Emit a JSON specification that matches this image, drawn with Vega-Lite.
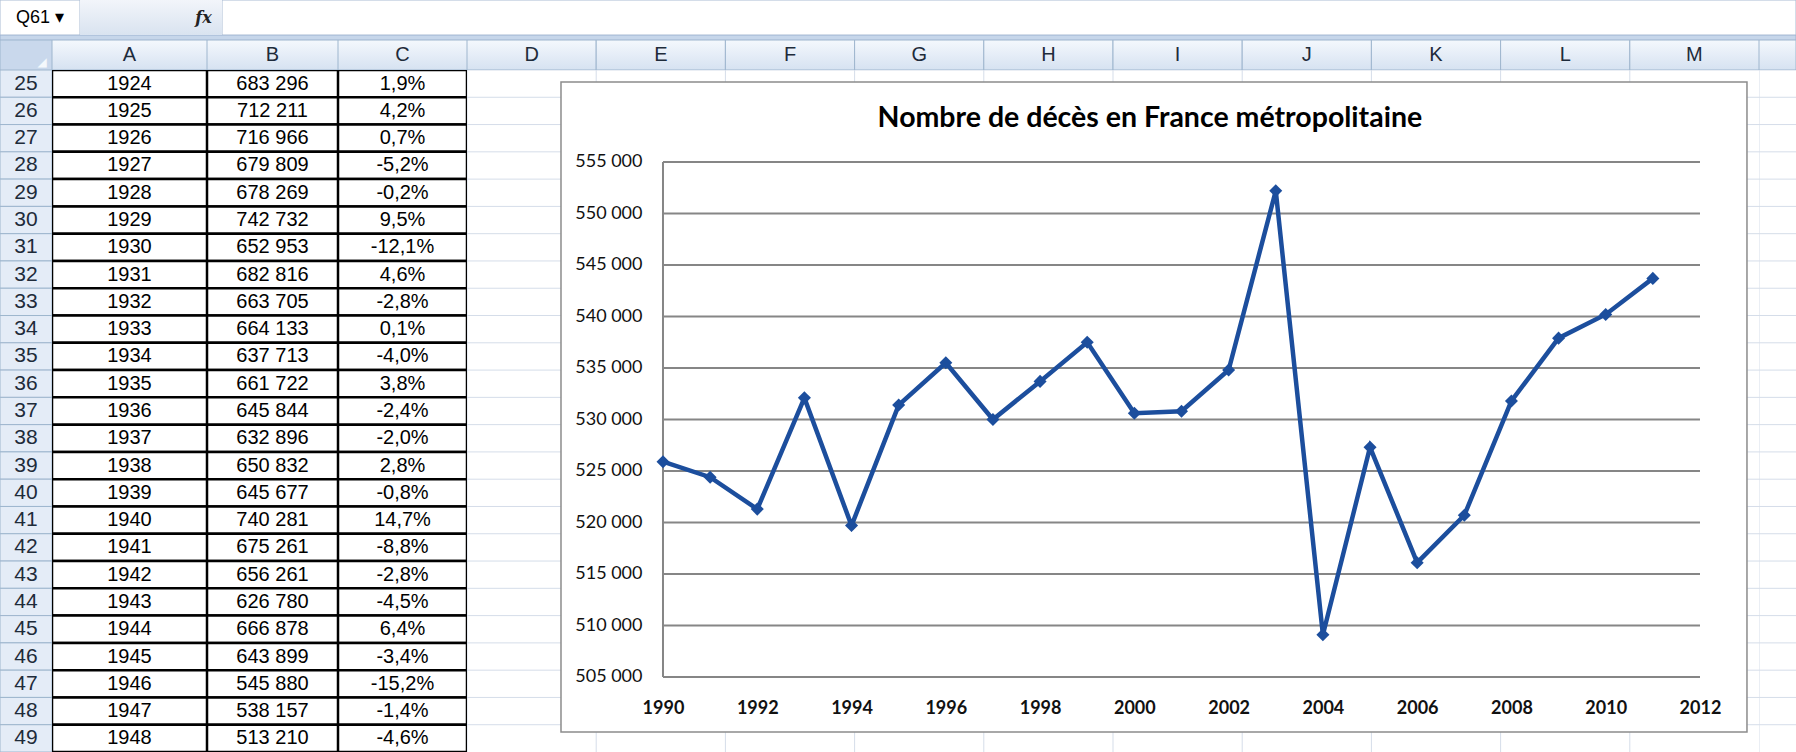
{
  "$schema": "https://vega.github.io/schema/vega-lite/v6.json",
  "padding": 0,
  "background": "#ffffff",
  "spacing": 0,
  "config": {
    "view": {"stroke": null},
    "concat": {"spacing": 0},
    "locale": {"number": {"decimal": ",", "thousands": " ", "grouping": [3], "currency": ["", " €"], "minus": "-"}},
    "axis": {"domain": false, "ticks": false, "grid": false, "labelPadding": 0, "tickSize": 0, "zindex": 1, "labelFont": "Lato", "labelFontSize": 18, "labelColor": "#111111", "labelOverlap": false, "labelFlush": false, "labelBound": false}
  },
  "datasets": {
    "one": [{"k": 1}],
    "cols": [{"col": "D"}, {"col": "E"}, {"col": "F"}, {"col": "G"}, {"col": "H"}, {"col": "I"}, {"col": "J"}, {"col": "K"}, {"col": "L"}, {"col": "M"}],
    "ticks": [{"v": 505000}, {"v": 510000}, {"v": 515000}, {"v": 520000}, {"v": 525000}, {"v": 530000}, {"v": 535000}, {"v": 540000}, {"v": 545000}, {"v": 550000}, {"v": 555000}],
    "deces": [
      {"annee": 1990, "deces": 525900}, {"annee": 1991, "deces": 524400}, {"annee": 1992, "deces": 521300},
      {"annee": 1993, "deces": 532100}, {"annee": 1994, "deces": 519700}, {"annee": 1995, "deces": 531400},
      {"annee": 1996, "deces": 535500}, {"annee": 1997, "deces": 530000}, {"annee": 1998, "deces": 533700},
      {"annee": 1999, "deces": 537500}, {"annee": 2000, "deces": 530600}, {"annee": 2001, "deces": 530800},
      {"annee": 2002, "deces": 534800}, {"annee": 2003, "deces": 552200}, {"annee": 2004, "deces": 509100},
      {"annee": 2005, "deces": 527300}, {"annee": 2006, "deces": 516100}, {"annee": 2007, "deces": 520700},
      {"annee": 2008, "deces": 531800}, {"annee": 2009, "deces": 537900}, {"annee": 2010, "deces": 540200},
      {"annee": 2011, "deces": 543700}
    ],
    "table": [
      {"row": 25, "annee": 1924, "deces": 683296, "taux": 0.019},
      {"row": 26, "annee": 1925, "deces": 712211, "taux": 0.042},
      {"row": 27, "annee": 1926, "deces": 716966, "taux": 0.007},
      {"row": 28, "annee": 1927, "deces": 679809, "taux": -0.052},
      {"row": 29, "annee": 1928, "deces": 678269, "taux": -0.002},
      {"row": 30, "annee": 1929, "deces": 742732, "taux": 0.095},
      {"row": 31, "annee": 1930, "deces": 652953, "taux": -0.121},
      {"row": 32, "annee": 1931, "deces": 682816, "taux": 0.046},
      {"row": 33, "annee": 1932, "deces": 663705, "taux": -0.028},
      {"row": 34, "annee": 1933, "deces": 664133, "taux": 0.001},
      {"row": 35, "annee": 1934, "deces": 637713, "taux": -0.04},
      {"row": 36, "annee": 1935, "deces": 661722, "taux": 0.038},
      {"row": 37, "annee": 1936, "deces": 645844, "taux": -0.024},
      {"row": 38, "annee": 1937, "deces": 632896, "taux": -0.02},
      {"row": 39, "annee": 1938, "deces": 650832, "taux": 0.028},
      {"row": 40, "annee": 1939, "deces": 645677, "taux": -0.008},
      {"row": 41, "annee": 1940, "deces": 740281, "taux": 0.147},
      {"row": 42, "annee": 1941, "deces": 675261, "taux": -0.088},
      {"row": 43, "annee": 1942, "deces": 656261, "taux": -0.028},
      {"row": 44, "annee": 1943, "deces": 626780, "taux": -0.045},
      {"row": 45, "annee": 1944, "deces": 666878, "taux": 0.064},
      {"row": 46, "annee": 1945, "deces": 643899, "taux": -0.034},
      {"row": 47, "annee": 1946, "deces": 545880, "taux": -0.152},
      {"row": 48, "annee": 1947, "deces": 538157, "taux": -0.014},
      {"row": 49, "annee": 1948, "deces": 513210, "taux": -0.046}
    ]
  },
  "vconcat": [
    {
      "hconcat": [
        {"width": 80, "height": 35, "data": {"name": "one"},
         "layer": [
           {"mark": {"type": "rect", "fill": "#ffffff", "stroke": "#a9bbd3", "strokeWidth": 1, "clip": true}, "encoding": {}},
           {"mark": {"type": "text", "font": "Liberation Sans", "fontSize": 18, "fill": "#000000"}, "encoding": {"text": {"value": "Q61 ▾"}}}
         ]},
        {"width": 105, "height": 35, "data": {"name": "one"},
         "mark": {"type": "rect", "clip": true, "fill": {"gradient": "linear", "x1": 0, "y1": 0, "x2": 0, "y2": 1, "stops": [{"offset": 0, "color": "#f2f5fa"}, {"offset": 1, "color": "#d9e3f0"}]}},
         "encoding": {}},
        {"width": 37, "height": 35, "data": {"name": "one"},
         "layer": [
           {"mark": {"type": "rect", "clip": true, "fill": {"gradient": "linear", "x1": 0, "y1": 0, "x2": 0, "y2": 1, "stops": [{"offset": 0, "color": "#f2f5fa"}, {"offset": 1, "color": "#d9e3f0"}]}}, "encoding": {}},
           {"mark": {"type": "text", "font": "DejaVu Serif", "fontSize": 16, "fontStyle": "italic", "fontWeight": "bold", "fill": "#222222"}, "encoding": {"text": {"value": "fx"}}}
         ]},
        {"width": 1574, "height": 35, "data": {"name": "one"},
         "mark": {"type": "rect", "fill": "#ffffff", "stroke": "#a9bbd3", "strokeWidth": 1, "clip": true},
         "encoding": {}}
      ],
      "spacing": 0,
      "bounds": "flush"
    },
    {"width": 1796, "height": 5, "data": {"name": "one"},
     "mark": {"type": "rect", "fill": "#c6d6ea", "stroke": "#9cb2cf", "strokeWidth": 1, "clip": true}, "encoding": {}},
    {
      "hconcat": [
        {
          "vconcat": [
            {"width": 52, "height": 30, "data": {"name": "one"},
             "layer": [
               {"mark": {"type": "rect", "fill": "#c9d8ec", "stroke": "#9eb6ce", "strokeWidth": 1, "clip": true}, "encoding": {}},
               {"mark": {"type": "text", "font": "DejaVu Sans", "fontSize": 12, "fill": "#f4f8fc", "dx": 16, "dy": 7}, "encoding": {"text": {"value": "◢"}}}
             ]},
            {"width": 52, "height": 682, "data": {"name": "table"},
             "layer": [
               {"mark": {"type": "rect", "fill": "#e4ecf7", "stroke": "#9eb6ce", "strokeWidth": 1, "clip": true},
                "encoding": {"y": {"field": "row", "type": "ordinal", "axis": null, "scale": {"type": "band", "paddingInner": 0, "paddingOuter": 0}}}},
               {"mark": {"type": "text", "font": "Liberation Sans", "fontSize": 21, "fill": "#1e2b3a"},
                "encoding": {"y": {"field": "row", "type": "ordinal", "axis": null, "scale": {"type": "band", "paddingInner": 0, "paddingOuter": 0}},
                             "text": {"field": "row", "type": "nominal"}}}
             ]}
          ],
          "spacing": 0, "bounds": "flush"
        },
        {
          "vconcat": [
            {"width": 155, "height": 30, "data": {"name": "one"},
             "layer": [
               {"mark": {"type": "rect", "stroke": "#9eb6ce", "strokeWidth": 1, "clip": true, "fill": {"gradient": "linear", "x1": 0, "y1": 0, "x2": 0, "y2": 1, "stops": [{"offset": 0, "color": "#f4f8fd"}, {"offset": 1, "color": "#d6e2f1"}]}}, "encoding": {}},
               {"mark": {"type": "text", "font": "Liberation Sans", "fontSize": 20, "fill": "#1e2b3a"}, "encoding": {"text": {"value": "A"}}}
             ]},
            {"width": 155, "height": 682, "data": {"name": "table"},
             "layer": [
               {"mark": {"type": "rect", "fill": "#ffffff", "stroke": "#000000", "strokeWidth": 2.5, "clip": true},
                "encoding": {"y": {"field": "row", "type": "ordinal", "axis": null, "scale": {"type": "band", "paddingInner": 0, "paddingOuter": 0}}}},
               {"mark": {"type": "text", "font": "Liberation Sans", "fontSize": 20, "fill": "#000000"},
                "encoding": {"y": {"field": "row", "type": "ordinal", "axis": null, "scale": {"type": "band", "paddingInner": 0, "paddingOuter": 0}},
                             "text": {"field": "annee", "type": "quantitative", "format": "d"}}}
             ]}
          ],
          "spacing": 0, "bounds": "flush"
        },
        {
          "vconcat": [
            {"width": 131, "height": 30, "data": {"name": "one"},
             "layer": [
               {"mark": {"type": "rect", "stroke": "#9eb6ce", "strokeWidth": 1, "clip": true, "fill": {"gradient": "linear", "x1": 0, "y1": 0, "x2": 0, "y2": 1, "stops": [{"offset": 0, "color": "#f4f8fd"}, {"offset": 1, "color": "#d6e2f1"}]}}, "encoding": {}},
               {"mark": {"type": "text", "font": "Liberation Sans", "fontSize": 20, "fill": "#1e2b3a"}, "encoding": {"text": {"value": "B"}}}
             ]},
            {"width": 131, "height": 682, "data": {"name": "table"},
             "layer": [
               {"mark": {"type": "rect", "fill": "#ffffff", "stroke": "#000000", "strokeWidth": 2.5, "clip": true},
                "encoding": {"y": {"field": "row", "type": "ordinal", "axis": null, "scale": {"type": "band", "paddingInner": 0, "paddingOuter": 0}}}},
               {"mark": {"type": "text", "font": "Liberation Sans", "fontSize": 20, "fill": "#000000"},
                "encoding": {"y": {"field": "row", "type": "ordinal", "axis": null, "scale": {"type": "band", "paddingInner": 0, "paddingOuter": 0}},
                             "text": {"field": "deces", "type": "quantitative", "format": ",d"}}}
             ]}
          ],
          "spacing": 0, "bounds": "flush"
        },
        {
          "vconcat": [
            {"width": 129, "height": 30, "data": {"name": "one"},
             "layer": [
               {"mark": {"type": "rect", "stroke": "#9eb6ce", "strokeWidth": 1, "clip": true, "fill": {"gradient": "linear", "x1": 0, "y1": 0, "x2": 0, "y2": 1, "stops": [{"offset": 0, "color": "#f4f8fd"}, {"offset": 1, "color": "#d6e2f1"}]}}, "encoding": {}},
               {"mark": {"type": "text", "font": "Liberation Sans", "fontSize": 20, "fill": "#1e2b3a"}, "encoding": {"text": {"value": "C"}}}
             ]},
            {"width": 129, "height": 682, "data": {"name": "table"},
             "layer": [
               {"mark": {"type": "rect", "fill": "#ffffff", "stroke": "#000000", "strokeWidth": 2.5, "clip": true},
                "encoding": {"y": {"field": "row", "type": "ordinal", "axis": null, "scale": {"type": "band", "paddingInner": 0, "paddingOuter": 0}}}},
               {"mark": {"type": "text", "font": "Liberation Sans", "fontSize": 20, "fill": "#000000"},
                "encoding": {"y": {"field": "row", "type": "ordinal", "axis": null, "scale": {"type": "band", "paddingInner": 0, "paddingOuter": 0}},
                             "text": {"field": "taux", "type": "quantitative", "format": ".1%"}}}
             ]}
          ],
          "spacing": 0, "bounds": "flush"
        },
        {
          "vconcat": [
            {"width": 1292, "height": 30, "data": {"name": "cols"},
             "layer": [
               {"mark": {"type": "rect", "stroke": "#9eb6ce", "strokeWidth": 1, "clip": true, "fill": {"gradient": "linear", "x1": 0, "y1": 0, "x2": 0, "y2": 1, "stops": [{"offset": 0, "color": "#f4f8fd"}, {"offset": 1, "color": "#d6e2f1"}]}},
                "encoding": {"x": {"field": "col", "type": "nominal", "axis": null, "scale": {"type": "band", "paddingInner": 0, "paddingOuter": 0}}}},
               {"mark": {"type": "text", "font": "Liberation Sans", "fontSize": 20, "fill": "#1e2b3a"},
                "encoding": {"x": {"field": "col", "type": "nominal", "axis": null, "scale": {"type": "band", "paddingInner": 0, "paddingOuter": 0}},
                             "text": {"field": "col", "type": "nominal"}}}
             ]},
            {"width": 1292, "height": 682,
             "layer": [
               {"data": {"name": "table"}, "mark": {"type": "rule", "stroke": "#d5dde9", "strokeWidth": 1, "clip": true},
                "encoding": {"y": {"field": "row", "type": "ordinal", "bandPosition": 0, "axis": null, "scale": {"type": "band", "paddingInner": 0, "paddingOuter": 0}}}},
               {"data": {"name": "cols"}, "mark": {"type": "rule", "stroke": "#d5dde9", "strokeWidth": 1, "clip": true},
                "encoding": {"x": {"field": "col", "type": "nominal", "bandPosition": 0, "axis": null, "scale": {"type": "band", "paddingInner": 0, "paddingOuter": 0}}}},
               {
                 "layer": [
                   {"data": {"name": "one"}, "mark": {"type": "rect", "fill": "#ffffff", "stroke": "#8c8c8c", "strokeWidth": 1.5},
                    "encoding": {
                      "x": {"datum": 1987.836, "type": "quantitative", "scale": {"domain": [1985.842, 2013.252], "nice": false, "zero": false},
                            "axis": {"title": null, "zindex": 1, "orient": "bottom", "offset": -38.5, "values": [1990, 1992, 1994, 1996, 1998, 2000, 2002, 2004, 2006, 2008, 2010, 2012], "format": "d", "labelBaseline": "alphabetic", "labelFontWeight": "bold"}},
                      "x2": {"datum": 2012.997},
                      "y": {"datum": 562767, "type": "quantitative", "scale": {"domain": [497718, 563932], "nice": false, "zero": false},
                            "axis": {"title": null, "zindex": 1, "orient": "left", "offset": -175, "values": [505000, 510000, 515000, 520000, 525000, 530000, 535000, 540000, 545000, 550000, 555000], "format": ",d", "labelBaseline": "middle", "labelAlign": "right"}},
                      "y2": {"datum": 499660}
                    }},
                   {"data": {"name": "ticks"}, "mark": {"type": "rule", "stroke": "#868686", "strokeWidth": 2},
                    "encoding": {
                      "y": {"field": "v", "type": "quantitative", "scale": {"domain": [497718, 563932], "nice": false, "zero": false},
                            "axis": {"title": null, "zindex": 1, "orient": "left", "offset": -175, "values": [505000, 510000, 515000, 520000, 525000, 530000, 535000, 540000, 545000, 550000, 555000], "format": ",d", "labelBaseline": "middle", "labelAlign": "right"}},
                      "x": {"datum": 1990, "type": "quantitative", "scale": {"domain": [1985.842, 2013.252], "nice": false, "zero": false},
                            "axis": {"title": null, "zindex": 1, "orient": "bottom", "offset": -38.5, "values": [1990, 1992, 1994, 1996, 1998, 2000, 2002, 2004, 2006, 2008, 2010, 2012], "format": "d", "labelBaseline": "alphabetic", "labelFontWeight": "bold"}},
                      "x2": {"datum": 2012}
                    }},
                   {"data": {"name": "one"}, "mark": {"type": "rule", "stroke": "#868686", "strokeWidth": 2},
                    "encoding": {
                      "x": {"datum": 1990, "type": "quantitative", "scale": {"domain": [1985.842, 2013.252], "nice": false, "zero": false},
                            "axis": {"title": null, "zindex": 1, "orient": "bottom", "offset": -38.5, "values": [1990, 1992, 1994, 1996, 1998, 2000, 2002, 2004, 2006, 2008, 2010, 2012], "format": "d", "labelBaseline": "alphabetic", "labelFontWeight": "bold"}},
                      "y": {"datum": 505000, "type": "quantitative", "scale": {"domain": [497718, 563932], "nice": false, "zero": false},
                            "axis": {"title": null, "zindex": 1, "orient": "left", "offset": -175, "values": [505000, 510000, 515000, 520000, 525000, 530000, 535000, 540000, 545000, 550000, 555000], "format": ",d", "labelBaseline": "middle", "labelAlign": "right"}},
                      "y2": {"datum": 555000}
                    }},
                   {"data": {"name": "deces"}, "mark": {"type": "line", "stroke": "#1c4e9d", "strokeWidth": 4.5},
                    "encoding": {
                      "x": {"field": "annee", "type": "quantitative", "scale": {"domain": [1985.842, 2013.252], "nice": false, "zero": false},
                            "axis": {"title": null, "zindex": 1, "orient": "bottom", "offset": -38.5, "values": [1990, 1992, 1994, 1996, 1998, 2000, 2002, 2004, 2006, 2008, 2010, 2012], "format": "d", "labelBaseline": "alphabetic", "labelFontWeight": "bold"}},
                      "y": {"field": "deces", "type": "quantitative", "scale": {"domain": [497718, 563932], "nice": false, "zero": false},
                            "axis": {"title": null, "zindex": 1, "orient": "left", "offset": -175, "values": [505000, 510000, 515000, 520000, 525000, 530000, 535000, 540000, 545000, 550000, 555000], "format": ",d", "labelBaseline": "middle", "labelAlign": "right"}}
                    }},
                   {"data": {"name": "deces"}, "mark": {"type": "point", "shape": "diamond", "filled": true, "size": 170, "fill": "#1c4e9d", "opacity": 1},
                    "encoding": {
                      "x": {"field": "annee", "type": "quantitative", "scale": {"domain": [1985.842, 2013.252], "nice": false, "zero": false},
                            "axis": {"title": null, "zindex": 1, "orient": "bottom", "offset": -38.5, "values": [1990, 1992, 1994, 1996, 1998, 2000, 2002, 2004, 2006, 2008, 2010, 2012], "format": "d", "labelBaseline": "alphabetic", "labelFontWeight": "bold"}},
                      "y": {"field": "deces", "type": "quantitative", "scale": {"domain": [497718, 563932], "nice": false, "zero": false},
                            "axis": {"title": null, "zindex": 1, "orient": "left", "offset": -175, "values": [505000, 510000, 515000, 520000, 525000, 530000, 535000, 540000, 545000, 550000, 555000], "format": ",d", "labelBaseline": "middle", "labelAlign": "right"}}
                    }},
                   {"data": {"name": "one"}, "mark": {"type": "text", "font": "Lato", "fontSize": 28.5, "fontWeight": "bold", "fill": "#000000", "align": "center", "baseline": "alphabetic"},
                    "encoding": {
                      "x": {"datum": 2000.33, "type": "quantitative", "scale": {"domain": [1985.842, 2013.252], "nice": false, "zero": false},
                            "axis": {"title": null, "zindex": 1, "orient": "bottom", "offset": -38.5, "values": [1990, 1992, 1994, 1996, 1998, 2000, 2002, 2004, 2006, 2008, 2010, 2012], "format": "d", "labelBaseline": "alphabetic", "labelFontWeight": "bold"}},
                      "y": {"datum": 558398, "type": "quantitative", "scale": {"domain": [497718, 563932], "nice": false, "zero": false},
                            "axis": {"title": null, "zindex": 1, "orient": "left", "offset": -175, "values": [505000, 510000, 515000, 520000, 525000, 530000, 535000, 540000, 545000, 550000, 555000], "format": ",d", "labelBaseline": "middle", "labelAlign": "right"}},
                      "text": {"value": "Nombre de décès en France métropolitaine"}
                    }}
                 ]
               }
             ],
             "resolve": {"scale": {"x": "independent", "y": "independent"}}
            }
          ],
          "spacing": 0, "bounds": "flush"
        },
        {
          "vconcat": [
            {"width": 37, "height": 30, "data": {"name": "one"},
             "mark": {"type": "rect", "stroke": "#9eb6ce", "strokeWidth": 1, "clip": true, "fill": {"gradient": "linear", "x1": 0, "y1": 0, "x2": 0, "y2": 1, "stops": [{"offset": 0, "color": "#f4f8fd"}, {"offset": 1, "color": "#d6e2f1"}]}},
             "encoding": {}},
            {"width": 37, "height": 682,
             "layer": [
               {"data": {"name": "table"}, "mark": {"type": "rule", "stroke": "#d5dde9", "strokeWidth": 1, "clip": true},
                "encoding": {"y": {"field": "row", "type": "ordinal", "bandPosition": 0, "axis": null, "scale": {"type": "band", "paddingInner": 0, "paddingOuter": 0}}}},
               {"data": {"name": "one"}, "mark": {"type": "rule", "stroke": "#d5dde9", "strokeWidth": 1, "clip": true},
                "encoding": {"x": {"datum": 0, "type": "quantitative", "axis": null, "scale": {"domain": [0, 1]}}}}
             ]}
          ],
          "spacing": 0, "bounds": "flush"
        }
      ],
      "spacing": 0
    }
  ]
}
